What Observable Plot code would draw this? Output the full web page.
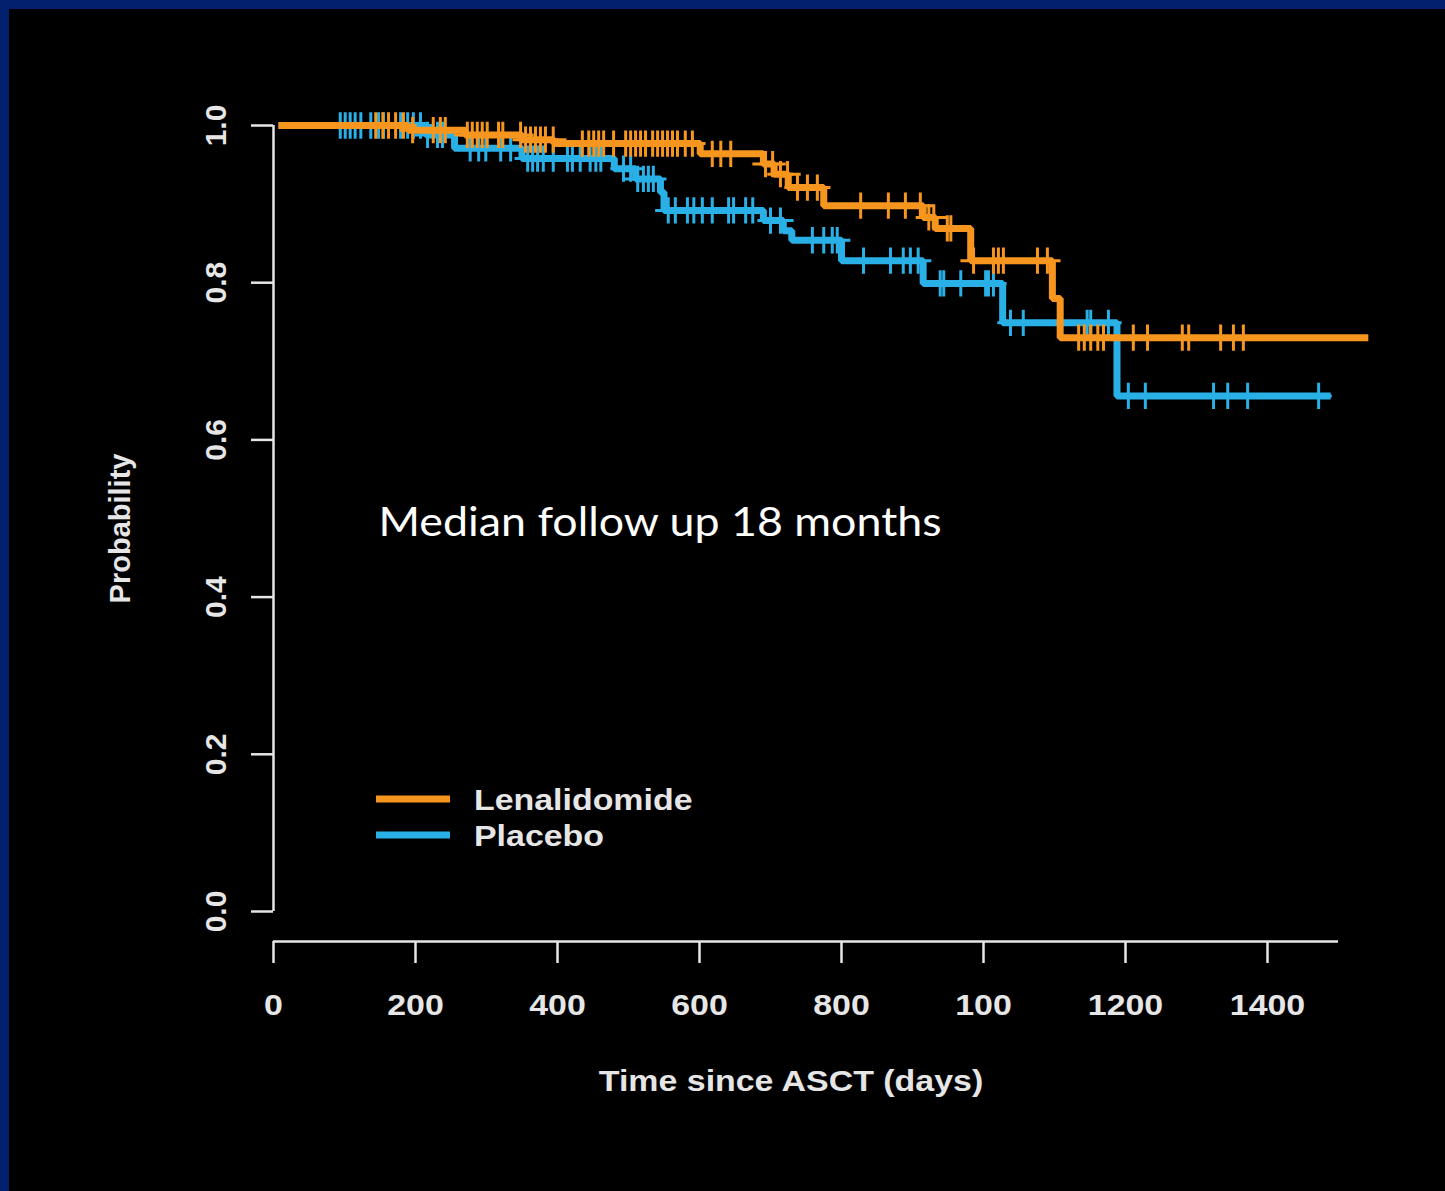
<!DOCTYPE html>
<html><head><meta charset="utf-8">
<script src="https://cdn.jsdelivr.net/npm/d3@7"></script>
<script src="https://cdn.jsdelivr.net/npm/@observablehq/plot@0.6"></script>
<style>
html,body{margin:0;padding:0;background:#02206e;width:1445px;height:1191px;overflow:hidden}
#panel{position:absolute;left:9px;top:9px;width:1436px;height:1182px;background:#000}
svg{display:block}
</style></head><body><div id="panel"></div>
<script>
// ---- data ----
const seriesNames = ["Lenalidomide", "Placebo"];
const seriesColors = ["#f7961e", "#29b0e6"];

const lenaStepDays = [7, 190, 270, 350, 395, 601, 690, 705, 725, 775, 915, 932, 982, 1097, 1108];
const lenaStepSurv = [1.0, 0.994, 0.988, 0.982, 0.977, 0.964, 0.951, 0.938, 0.921, 0.898, 0.883, 0.869, 0.828, 0.780, 0.730];
const lenaEndDay = 1542;
const lenaCensorDays = [144, 154, 162, 172, 183, 196, 225, 235, 242, 273, 280, 287, 294, 301, 317, 323, 348, 355, 362, 369, 376, 383, 394, 435, 444, 451, 458, 465, 479, 496, 503, 510, 517, 524, 534, 541, 548, 555, 562, 569, 580, 590, 618, 630, 644, 693, 703, 714, 724, 738, 752, 766, 827, 866, 890, 911, 923, 930, 949, 954, 986, 1014, 1021, 1028, 1076, 1090, 1134, 1142, 1151, 1161, 1169, 1211, 1231, 1280, 1289, 1334, 1352, 1366];

const placStepDays = [7, 215, 255, 350, 480, 510, 545, 550, 690, 718, 730, 800, 915, 1027, 1188];
const placStepSurv = [1.0, 0.988, 0.971, 0.958, 0.945, 0.932, 0.915, 0.892, 0.879, 0.866, 0.854, 0.828, 0.799, 0.749, 0.656];
const placEndDay = 1489;
const placCensorDays = [94, 101, 108, 115, 123, 137, 148, 155, 179, 189, 197, 207, 217, 231, 238, 277, 289, 299, 320, 334, 358, 365, 372, 380, 394, 414, 421, 432, 446, 454, 461, 493, 503, 513, 521, 528, 535, 556, 566, 583, 592, 604, 618, 641, 648, 665, 675, 700, 714, 759, 775, 787, 794, 831, 869, 887, 897, 908, 939, 944, 968, 1003, 1007, 1014, 1038, 1056, 1146, 1151, 1176, 1204, 1228, 1324, 1344, 1372, 1472];

const xDomain = [0, 1500];
const xTicks = [0, 200, 400, 600, 800, 1000, 1200, 1400];
const xTickLabels = ["0", "200", "400", "600", "800", "100", "1200", "1400"];
const yTicks = [0, 0.2, 0.4, 0.6, 0.8, 1.0];
const yTickLabels = ["0.0", "0.2", "0.4", "0.6", "0.8", "1.0"];

const xTitle = "Time since ASCT (days)";
const yTitle = "Probability";
const note = "Median follow up 18 months";

// ---- build rows ----
function curveRows(name, days, surv, endDay) {
  const rows = days.map((d, i) => ({series: name, day: d, surv: surv[i]}));
  rows.push({series: name, day: endDay, surv: surv[surv.length - 1]});
  return rows;
}
function survAt(days, surv, t) {
  let s = surv[0];
  for (let i = 0; i < days.length; i++) if (days[i] <= t) s = surv[i];
  return s;
}
function censorRows(name, days, surv, cdays) {
  return cdays.map(t => ({series: name, day: t, surv: survAt(days, surv, t)}));
}
const lenaCurve = curveRows(seriesNames[0], lenaStepDays, lenaStepSurv, lenaEndDay);
const placCurve = curveRows(seriesNames[1], placStepDays, placStepSurv, placEndDay);
const lenaCens = censorRows(seriesNames[0], lenaStepDays, lenaStepSurv, lenaCensorDays);
const placCens = censorRows(seriesNames[1], placStepDays, placStepSurv, placCensorDays);

const axisColor = "#e6e6e6";
const W = 1436, H = 1182;

const plot = Plot.plot({
  width: W, height: H,
  marginLeft: 264, marginRight: 107, marginTop: 116, marginBottom: 280,
  style: {background: "transparent", color: axisColor, fontFamily: "'Liberation Sans', Arial, sans-serif", overflow: "visible"},
  x: {domain: xDomain, axis: null, label: null},
  y: {domain: [0, 1], axis: null, label: null},
  color: {domain: seriesNames, range: seriesColors},
  marks: [
    Plot.ruleX([0], {y1: 0, y2: 1, stroke: axisColor, strokeWidth: 2.5}),
    Plot.axisY(yTicks, {label: null, tickSize: 22, tickRotate: -90, tickPadding: 26, strokeWidth: 2.5,
      tickFormat: d => yTickLabels[yTicks.indexOf(d)], fontSize: 30, fontWeight: "bold"}),
    Plot.ruleY([0], {x1: xDomain[0], x2: xDomain[1], dy: 30, stroke: axisColor, strokeWidth: 2.5}),
    Plot.axisX(xTicks, {label: null, tickSize: 22, tickPadding: 30, dy: 30, strokeWidth: 2.5,
      tickFormat: d => xTickLabels[xTicks.indexOf(d)], fontSize: 30, fontWeight: "bold"}),
    Plot.line(placCurve, {x: "day", y: "surv", stroke: "series", curve: "step-after", strokeWidth: 7, strokeLinecap: "butt", strokeLinejoin: "miter"}),
    Plot.dot(placCens, {x: "day", y: "surv", stroke: "series", symbol: "plus", r: 8.5, strokeWidth: 3}),
    Plot.line(lenaCurve, {x: "day", y: "surv", stroke: "series", curve: "step-after", strokeWidth: 7, strokeLinecap: "butt", strokeLinejoin: "miter"}),
    Plot.dot(lenaCens, {x: "day", y: "surv", stroke: "series", symbol: "plus", r: 8.5, strokeWidth: 3}),
    Plot.text([yTitle], {text: d => d, frameAnchor: "left", textAnchor: "middle", rotate: -90, dx: -153, dy: 10, fontSize: 29, fontWeight: "bold", fill: axisColor}),
    Plot.text([xTitle], {text: d => d, frameAnchor: "bottom", textAnchor: "middle", dx: -15, dy: 179, fontSize: 30, fontWeight: "bold", fill: axisColor, className: "xtitle"}),
    Plot.text([note], {text: d => d, frameAnchor: "top-left", textAnchor: "start", lineAnchor: "middle", dx: 105, dy: 398, fontSize: 40, fontFamily: "Lato", fill: "#ffffff", className: "note"})
  ]
});
document.getElementById("panel").appendChild(plot);

// legend
const svg = d3.select(plot);
const leg = svg.append("g").attr("class", "legend");
seriesNames.forEach((name, i) => {
  const y = 790 + i * 36;
  leg.append("line").attr("x1", 367).attr("x2", 441).attr("y1", y).attr("y2", y)
    .attr("stroke", seriesColors[i]).attr("stroke-width", 7);
  leg.append("text").attr("x", 465).attr("y", y).attr("dy", "0.35em")
    .attr("text-anchor", "start")
    .attr("fill", axisColor).attr("font-size", 30).attr("font-weight", "bold")
    .attr("font-family", "'Liberation Sans', Arial, sans-serif").text(name);
});

// horizontal stretch for non-rotated labels (the reference image is stretched)
svg.selectAll("text").each(function() {
  const t = this.getAttribute("transform") || "";
  const pt = (this.parentNode.getAttribute && this.parentNode.getAttribute("transform")) || "";
  if (t.includes("rotate") || pt.includes("rotate")) return;
  if (this.closest(".note")) {
    this.setAttribute("textLength", 563);
    this.setAttribute("lengthAdjust", "spacingAndGlyphs");
    return;
  }
  const w = this.getComputedTextLength();
  if (w > 0) {
    this.setAttribute("textLength", w * 1.13);
    this.setAttribute("lengthAdjust", "spacingAndGlyphs");
  }
});
</script>
</body></html>
